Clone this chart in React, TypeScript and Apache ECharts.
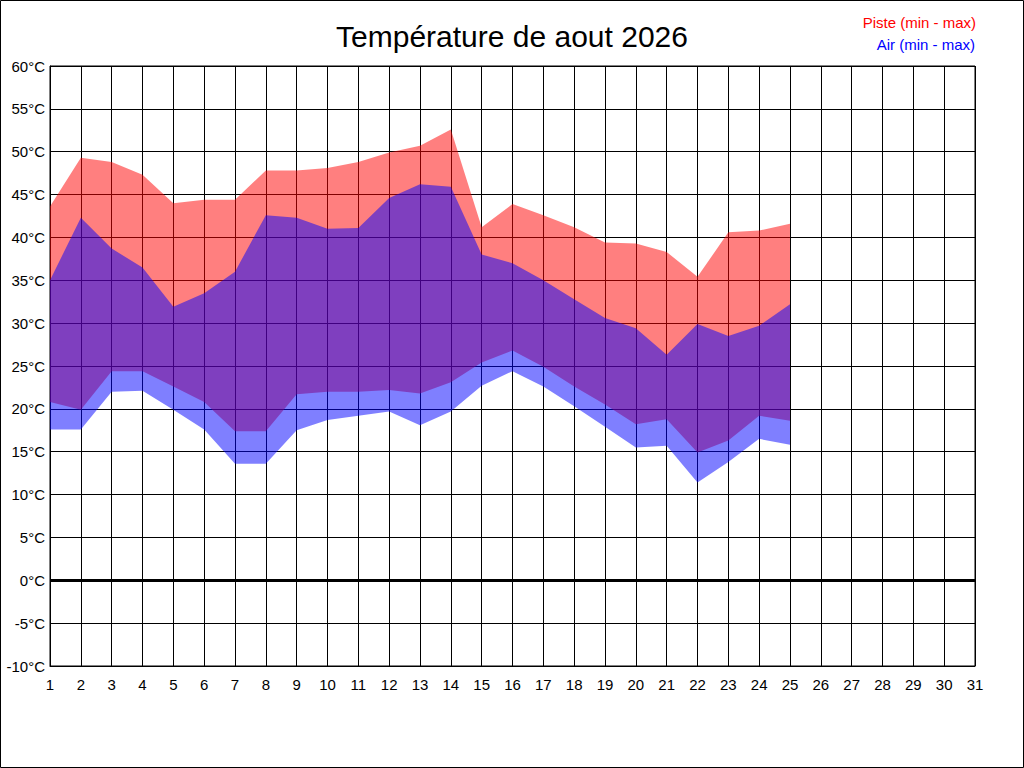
import React, { useEffect, useRef } from "react";
import * as echarts from "echarts";

const days: string[] = Array.from({ length: 31 }, (_, i) => String(i + 1));

// Piste (track) temperatures, min / max, days 1..25
const pisteMin: number[] = [20.8, 19.9, 24.4, 24.4, 22.6, 20.8, 17.4, 17.4, 21.7, 22.0, 22.0, 22.2, 21.8, 23.1, 25.4, 26.8, 24.9, 22.6, 20.5, 18.2, 18.8, 14.9, 16.3, 19.2, 18.6];
const pisteMax: number[] = [43.6, 49.3, 48.8, 47.3, 44.0, 44.4, 44.4, 47.8, 47.8, 48.1, 48.8, 49.9, 50.7, 52.6, 41.2, 43.9, 42.6, 41.2, 39.4, 39.3, 38.3, 35.4, 40.6, 40.8, 41.6];
// Air temperatures, min / max
const airMin: number[] = [17.6, 17.6, 22.0, 22.1, 19.9, 17.6, 13.6, 13.6, 17.5, 18.7, 19.2, 19.7, 18.1, 19.7, 22.7, 24.4, 22.6, 20.3, 17.9, 15.5, 15.7, 11.4, 13.8, 16.5, 15.8];
const airMax: number[] = [35.0, 42.3, 38.7, 36.5, 31.9, 33.5, 36.0, 42.6, 42.3, 41.0, 41.1, 44.6, 46.2, 45.9, 38.0, 37.0, 35.0, 32.8, 30.6, 29.4, 26.3, 29.9, 28.5, 29.7, 32.2];

const titleText = "Température de aout 2026";
const legendPiste = "Piste (min - max)";
const legendAir = "Air (min - max)";

const FONT = "Arial, 'Liberation Sans', sans-serif";

export default function App() {
  const ref = useRef<HTMLDivElement>(null);

  useEffect(() => {
    if (!ref.current) return;
    const chart = echarts.init(ref.current, undefined, { renderer: "svg" });

    const pisteSpan = pisteMax.map((v, i) => +(v - pisteMin[i]).toFixed(2));
    const airSpan = airMax.map((v, i) => +(v - airMin[i]).toFixed(2));

    const option: any = {
      animation: false,
      backgroundColor: "#ffffff",
      title: {
        text: titleText,
        left: "center",
        top: 16,
        textStyle: { fontFamily: FONT, fontSize: 30, fontWeight: "normal", color: "#000" },
      },
      graphic: [
        {
          type: "rect",
          shape: { x: 0.5, y: 0.5, width: 1023, height: 767 },
          style: { fill: "none", stroke: "#000", lineWidth: 1 },
          silent: true,
        },
        {
          type: "text",
          right: 48,
          top: 15,
          style: { text: legendPiste, fill: "#ff0000", font: `15px ${FONT}` },
        },
        {
          type: "text",
          right: 49,
          top: 37,
          style: { text: legendAir, fill: "#0000ff", font: `15px ${FONT}` },
        },
      ],
      grid: { left: 50, right: 49, top: 66, bottom: 102, show: true, borderColor: "#000", borderWidth: 1, backgroundColor: "transparent" },
      xAxis: {
        type: "category",
        data: days,
        boundaryGap: false,
        axisLine: { show: true, onZero: false, lineStyle: { color: "#000", width: 1 } },
        axisTick: { show: false },
        axisLabel: { interval: 0, color: "#000", fontSize: 15, fontFamily: FONT, margin: 11 },
        splitLine: { show: true, interval: 0, lineStyle: { color: "#000", width: 1 } },
      },
      yAxis: {
        type: "value",
        min: -10,
        max: 60,
        interval: 5,
        axisLine: { show: true, lineStyle: { color: "#000", width: 1 } },
        axisTick: { show: false },
        axisLabel: { formatter: "{value}°C", color: "#000", fontSize: 15, fontFamily: FONT, margin: 5 },
        splitLine: { show: true, lineStyle: { color: "#000", width: 1 } },
      },
      series: [
        {
          name: "Piste min",
          type: "line",
          stack: "piste",
          data: pisteMin,
          symbol: "none",
          lineStyle: { width: 0, opacity: 0 },
          silent: true,
          markLine: {
            silent: true,
            symbol: ["none", "none"],
            label: { show: false },
            lineStyle: { color: "#000", width: 3, type: "solid" },
            data: [{ yAxis: 0 }],
          },
        },
        {
          name: legendPiste,
          type: "line",
          stack: "piste",
          data: pisteSpan,
          symbol: "none",
          lineStyle: { width: 0, opacity: 0 },
          areaStyle: { color: "#ff0000", opacity: 0.5 },
          silent: true,
        },
        {
          name: "Air min",
          type: "line",
          stack: "air",
          data: airMin,
          symbol: "none",
          lineStyle: { width: 0, opacity: 0 },
          silent: true,
        },
        {
          name: legendAir,
          type: "line",
          stack: "air",
          data: airSpan,
          symbol: "none",
          lineStyle: { width: 0, opacity: 0 },
          areaStyle: { color: "#0000ff", opacity: 0.5 },
          silent: true,
        },
      ],
    };

    chart.setOption(option);
    return () => chart.dispose();
  }, []);

  return (
    <div
      ref={ref}
      style={{ position: "fixed", left: 0, top: 0, width: 1024, height: 768, background: "#fff" }}
    />
  );
}
